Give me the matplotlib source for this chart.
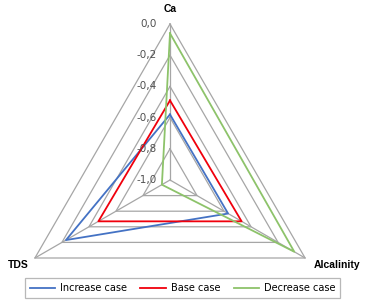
import numpy as np
import matplotlib
matplotlib.use('Agg')
import matplotlib.pyplot as plt

# data
axes_names = ['Ca', 'Alcalinity', 'TDS']
increase_case = [-0.58, -0.57, -0.23]
base_case = [-0.49, -0.47, -0.47]
decrease_case = [-0.06, -0.08, -0.94]
levels = [-1.0, -0.8, -0.6, -0.4, -0.2, 0.0]
level_labels = ['-1,0', '-0,8', '-0,6', '-0,4', '-0,2', '0,0']

series = [('Increase case', increase_case, '#4472C4'),
          ('Base case', base_case, '#F0000C'),
          ('Decrease case', decrease_case, '#8DC36A')]

fig = plt.figure(figsize=(3.65, 3.03), dpi=100)
# center about (170,180) px, radius ~156 px
ax = fig.add_axes([14/365, (123-156)/303, 312/365, 312/303], projection='polar')
ax.set_theta_offset(np.pi/2)
ax.set_theta_direction(-1)
ax.set_ylim(-1.0, 0.0)
ax.set_xticks([])
ax.set_yticks([])
ax.grid(False)
ax.spines['polar'].set_visible(False)
ax.patch.set_visible(False)

theta = np.linspace(0, 2*np.pi, len(axes_names), endpoint=False)
theta_closed = np.append(theta, theta[0])

# triangular grid
grey = '#A6A6A6'
for lv in levels[1:]:
    ax.plot(theta_closed, [lv]*4, color=grey, lw=0.9, zorder=1, clip_on=False)
for t in theta:
    ax.plot([t, t], [-1.0, 0.0], color=grey, lw=0.9, zorder=1, clip_on=False)

for name, vals, col in series:
    ax.plot(theta_closed, vals + vals[:1], color=col, lw=1.3, label=name, zorder=3, clip_on=False)

# radial tick labels along the Ca axis
for lv, lab in zip(levels, level_labels):
    ax.annotate(lab, xy=(0, lv), xytext=(-13, 0), textcoords='offset pixels',
                ha='right', va='center', fontsize=7.5, color='#505050')

# category labels
lab_kw = dict(textcoords='offset pixels', fontsize=7.5, fontweight='bold',
              family='Liberation Sans')
ax.annotate('Ca', xy=(theta[0], 0.0), xytext=(0, 10), ha='center', va='bottom', **lab_kw)
ax.annotate('Alcalinity', xy=(theta[1], 0.0), xytext=(9, -7), ha='left', va='center', **lab_kw)
ax.annotate('TDS', xy=(theta[2], 0.0), xytext=(-6, -7), ha='right', va='center', **lab_kw)

leg = fig.legend(loc='lower center', bbox_to_anchor=(0.5, 0.0), ncol=3, fontsize=7,
                 frameon=True, fancybox=False, handlelength=2.6, columnspacing=1.4,
                 borderpad=0.5, handletextpad=0.5)
leg.get_frame().set_edgecolor(grey)
leg.get_frame().set_linewidth(0.9)

fig.savefig('out.png', dpi=100)
